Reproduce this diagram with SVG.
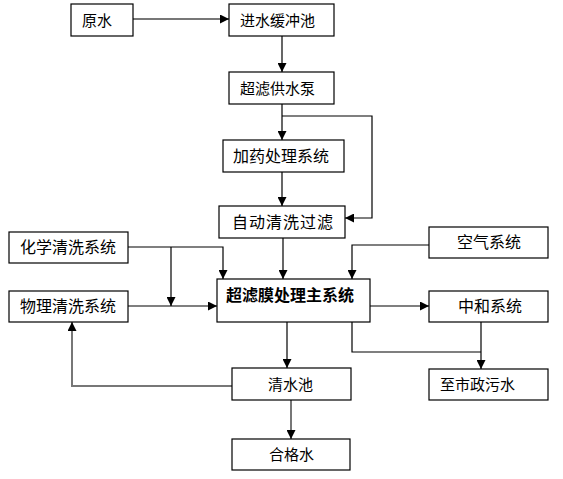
<svg xmlns="http://www.w3.org/2000/svg" width="563" height="479" viewBox="0 0 563 479">
<style>
.box{fill:#fff;stroke:#000;stroke-width:1.2}
.t{font-family:"Liberation Sans","Noto Sans CJK SC",sans-serif;font-size:15px;fill:#000}
.l{font-size:16px}
.b{font-weight:bold;font-size:16px}
.c{fill:none;stroke:#000;stroke-width:1.2}
.g{stroke:#777;stroke-width:2}
</style>
<defs>
<marker id="ah" viewBox="0 0 10 10" refX="10" refY="5" markerWidth="9" markerHeight="9" markerUnits="userSpaceOnUse" orient="auto">
<path d="M0,0 L10,5 L0,10 Z" fill="#000"/>
</marker>
</defs>
<rect width="563" height="479" fill="#fff"/>
<g id="connectors">
<path class="c g" d="M133,19 H229" marker-end="url(#ah)"/>
<path class="c" d="M282,36 V72" marker-end="url(#ah)"/>
<path class="c" d="M282,104 V140" marker-end="url(#ah)"/>
<path class="c" d="M282,116 H372 V218 H345" marker-end="url(#ah)"/>
<path class="c" d="M282,172 V206" marker-end="url(#ah)"/>
<path class="c" d="M283,238 V279" marker-end="url(#ah)"/>
<path class="c" d="M128,247 H223 V279" marker-end="url(#ah)"/>
<path class="c" d="M171,247 V306" marker-end="url(#ah)"/>
<path class="c" d="M128,306 H217" marker-end="url(#ah)"/>
<path class="c" d="M429,245 H352 V279" marker-end="url(#ah)"/>
<path class="c" d="M370,306 H429" marker-end="url(#ah)"/>
<path class="c" d="M352,322 V352 H481"/>
<path class="c" d="M481,322 V369" marker-end="url(#ah)"/>
<path class="c" d="M287,322 V368" marker-end="url(#ah)"/>
<path class="c g" d="M232,386 H72 V322" marker-end="url(#ah)"/>
<path class="c g" d="M291,400 V439" marker-end="url(#ah)"/>
</g>
<g id="n_yuanshui"><rect class="box" x="71" y="4" width="62" height="32"/><text class="t" x="82" y="26">原水</text></g>
<g id="n_jinshui"><rect class="box" x="229" y="4" width="105" height="32"/><text class="t" x="240" y="26">进水缓冲池</text></g>
<g id="n_beng"><rect class="box" x="229" y="72" width="105" height="32"/><text class="t" x="240" y="94">超滤供水泵</text></g>
<g id="n_jiayao"><rect class="box" x="223" y="140" width="121" height="32"/><text class="t l" x="233" y="162">加药处理系统</text></g>
<g id="n_zidong"><rect class="box" x="219" y="206" width="126" height="32"/><text class="t l" x="232" y="228" letter-spacing="1">自动清洗过滤</text></g>
<g id="n_huaxue"><rect class="box" x="9" y="232" width="119" height="31"/><text class="t l" x="20" y="253">化学清洗系统</text></g>
<g id="n_wuli"><rect class="box" x="9" y="291" width="119" height="31"/><text class="t l" x="20" y="312">物理清洗系统</text></g>
<g id="n_main"><rect class="box" x="217" y="279" width="153" height="43"/><text class="t b" x="226" y="301">超滤膜处理主系统</text></g>
<g id="n_kongqi"><rect class="box" x="429" y="227" width="119" height="31"/><text class="t l" x="457" y="248">空气系统</text></g>
<g id="n_zhonghe"><rect class="box" x="429" y="291" width="119" height="31"/><text class="t l" x="458" y="312">中和系统</text></g>
<g id="n_shizheng"><rect class="box" x="429" y="369" width="119" height="31"/><text class="t" x="440" y="390">至市政污水</text></g>
<g id="n_qingshui"><rect class="box" x="232" y="368" width="119" height="32"/><text class="t" x="268" y="390">清水池</text></g>
<g id="n_hege"><rect class="box" x="232" y="439" width="118" height="31"/><text class="t" x="269" y="460">合格水</text></g>
</svg>
